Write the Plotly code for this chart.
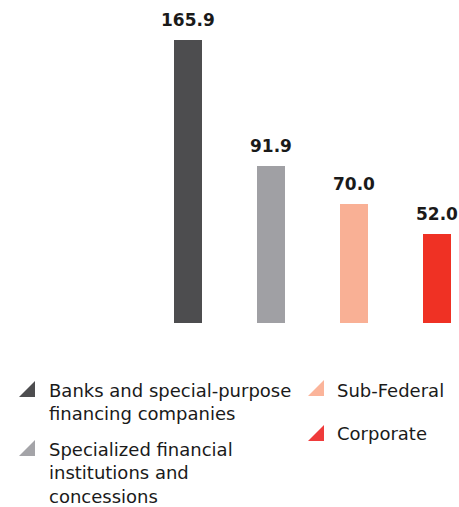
import plotly.graph_objects as go

# Portfolio breakdown by issuer type
categories = [
    "Banks and special-purpose<br>financing companies",
    "Specialized financial<br>institutions and<br>concessions",
    "Sub-Federal",
    "Corporate",
]
values = [165.9, 91.9, 70.0, 52.0]
colors = ["#4d4d4f", "#a0a0a4", "#f9b095", "#ef3124"]
swatch_colors = ["#4d4d4f", "#a4a4a8", "#fbb49a", "#ef3b3b"]

W, H = 459, 507
PLOT_BOTTOM_PX = 323          # baseline of the bars, from top of page
X0_PX, STEP_PX, BAR_PX = 188, 83, 28
TOP_BAR_PX = 40               # top of the tallest bar

ymax = max(values) * PLOT_BOTTOM_PX / (PLOT_BOTTOM_PX - TOP_BAR_PX)
xpos = list(range(len(values)))

fig = go.Figure()
fig.add_trace(go.Bar(
    x=xpos, y=values,
    marker=dict(color=colors, line=dict(width=0)),
    width=BAR_PX / STEP_PX,
    hoverinfo="skip",
    showlegend=False,
))

# value labels above each bar
for xi, v in zip(xpos, values):
    fig.add_annotation(
        x=xi, y=v, xref="x", yref="y",
        text=f"{v:.1f}", showarrow=False,
        yanchor="bottom", xanchor="center", yshift=8,
        font=dict(family="DejaVu Sans", size=17, color="#1a1a1a", weight="bold"),
    )

def px_x(p):
    return p / W

def px_y(p):
    return (H - p) / H

# legend: two columns, triangle swatch + wrapped label
legend_items = [
    # (text_left_px, text_top_px, swatch_left_px, swatch_bottom_px)
    (47, 378, 19, 397),
    (47, 437, 19, 456),
    (335, 378, 308, 396),
    (335, 421, 308, 441),
]
SW = 16
for (tx, ty, sx, sb), label, col in zip(legend_items, categories, swatch_colors):
    path = (f"M {px_x(sx)} {px_y(sb)} L {px_x(sx + SW)} {px_y(sb)} "
            f"L {px_x(sx + SW)} {px_y(sb - SW)} Z")
    fig.add_shape(type="path", path=path, xref="paper", yref="paper",
                  fillcolor=col, line=dict(width=0))
    fig.add_annotation(
        x=px_x(tx), y=px_y(ty), xref="paper", yref="paper",
        text=label, showarrow=False, align="left",
        xanchor="left", yanchor="top",
        font=dict(family="DejaVu Sans", size=18, color="#1a1a1a"),
    )

fig.update_layout(
    width=W, height=H,
    margin=dict(l=0, r=0, t=0, b=0),
    paper_bgcolor="white", plot_bgcolor="white",
    xaxis=dict(range=[-X0_PX / STEP_PX, (W - X0_PX) / STEP_PX],
               visible=False, fixedrange=True),
    yaxis=dict(range=[0, ymax], domain=[1 - PLOT_BOTTOM_PX / H, 1],
               visible=False, fixedrange=True),
    bargap=0,
)

fig.write_html("out.html")
